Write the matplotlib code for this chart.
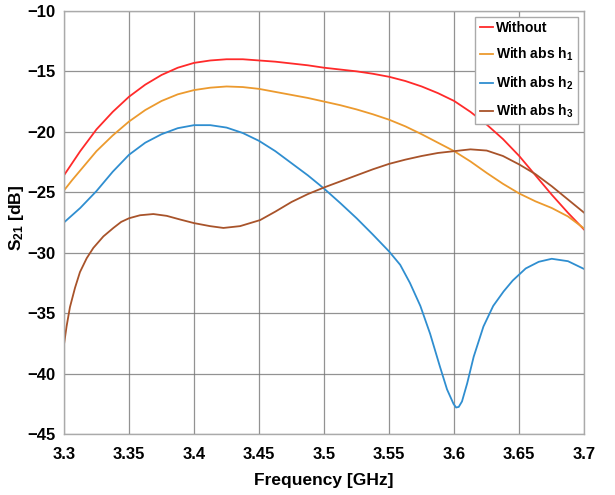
import numpy as np
import matplotlib
matplotlib.use('Agg')
import matplotlib.pyplot as plt
from matplotlib import rcParams

rcParams['font.family'] = ['Liberation Sans', 'DejaVu Sans']
rcParams['font.weight'] = 'bold'
rcParams['mathtext.fontset'] = 'custom'
rcParams['mathtext.rm'] = 'Liberation Sans:bold'
rcParams['mathtext.it'] = 'Liberation Sans:bold'
rcParams['mathtext.default'] = 'rm'

# values
freq = [3.3, 3.30625, 3.3125, 3.31875, 3.325, 3.3375, 3.35, 3.3625, 3.375, 3.3875,
        3.4, 3.4125, 3.425, 3.4375, 3.45, 3.4625, 3.475, 3.4875, 3.5, 3.5125,
        3.525, 3.5375, 3.55, 3.5625, 3.575, 3.5875, 3.6, 3.6125, 3.625, 3.6375,
        3.65, 3.6625, 3.675, 3.6875, 3.7]
s21_without = [-23.6, -22.6, -21.6, -20.7, -19.8, -18.35, -17.1, -16.1, -15.3, -14.7,
               -14.3, -14.1, -14.0, -14.0, -14.1, -14.2, -14.35, -14.5, -14.7, -14.85,
               -15.0, -15.2, -15.45, -15.8, -16.25, -16.8, -17.45, -18.35, -19.4, -20.6,
               -22.0, -23.6, -25.2, -26.7, -28.1]
s21_h1 = [-24.85, -24.0, -23.2, -22.4, -21.6, -20.3, -19.15, -18.2, -17.45, -16.9,
          -16.55, -16.35, -16.25, -16.3, -16.45, -16.7, -16.95, -17.2, -17.5, -17.8,
          -18.15, -18.55, -19.0, -19.55, -20.2, -20.9, -21.6, -22.45, -23.4, -24.3,
          -25.1, -25.75, -26.3, -27.0, -28.0]

freq_h2 = [3.3, 3.3125, 3.325, 3.3375, 3.35, 3.3625, 3.375, 3.3875, 3.4, 3.4125,
           3.425, 3.4375, 3.45, 3.4625, 3.475, 3.4875, 3.5, 3.5125, 3.525, 3.5375,
           3.55, 3.5585, 3.566, 3.574, 3.5815, 3.589, 3.5945, 3.5995, 3.6015, 3.6035,
           3.606, 3.61, 3.615, 3.6225, 3.63, 3.638, 3.645, 3.655, 3.665, 3.675,
           3.6875, 3.7]
s21_h2 = [-27.5, -26.3, -24.9, -23.3, -21.9, -20.9, -20.2, -19.7, -19.45, -19.45,
          -19.65, -20.1, -20.75, -21.6, -22.6, -23.6, -24.7, -25.9, -27.15, -28.5,
          -29.9, -31.0, -32.5, -34.4, -36.7, -39.4, -41.3, -42.5, -42.8, -42.75,
          -42.3, -40.8, -38.6, -36.1, -34.4, -33.2, -32.3, -31.3, -30.75, -30.5,
          -30.7, -31.35]

freq_h3 = [3.3, 3.302, 3.3046, 3.3085, 3.3123, 3.3175, 3.3226, 3.3303, 3.338, 3.344,
           3.35, 3.3585, 3.3687, 3.379, 3.3892, 3.4, 3.4123, 3.4226, 3.4354, 3.4508,
           3.4625, 3.475, 3.4875, 3.5, 3.5125, 3.525, 3.5375, 3.55, 3.5625, 3.575,
           3.5875, 3.6, 3.6125, 3.625, 3.6375, 3.65, 3.6625, 3.675, 3.6875, 3.7]
s21_h3 = [-37.6, -36.1, -34.5, -32.9, -31.6, -30.45, -29.6, -28.65, -27.95, -27.45,
          -27.15, -26.9, -26.8, -26.95, -27.25, -27.55, -27.8, -27.95, -27.8, -27.3,
          -26.6, -25.8, -25.15, -24.6, -24.1, -23.6, -23.1, -22.65, -22.3, -22.0,
          -21.75, -21.6, -21.45, -21.55, -22.0, -22.7, -23.5, -24.5, -25.6, -26.7]

labels = ['Without', r'With abs h$_1$', r'With abs h$_2$', r'With abs h$_3$']
colors = ['#FF2A2A', '#EC9A2E', '#2F8ED0', '#A8532A']
xticks = [3.3, 3.35, 3.4, 3.45, 3.5, 3.55, 3.6, 3.65, 3.7]
yticks = [-45, -40, -35, -30, -25, -20, -15, -10]

fig = plt.figure(figsize=(6.15, 4.95), dpi=100)
ax = fig.add_axes([0.104, 0.123, 0.846, 0.855])

series = [(freq, s21_without), (freq, s21_h1), (freq_h2, s21_h2), (freq_h3, s21_h3)]
for (x, y), lab, c in zip(series, labels, colors):
    ax.plot(x, y, color=c, linewidth=1.3, label=lab)

ax.set_xlim(3.3, 3.7)
ax.set_ylim(-45, -10)
ax.set_xticks(xticks)
ax.set_xticklabels([('%g' % t) for t in xticks])
ax.set_yticks(yticks)
ax.grid(True, color='#777777', linewidth=0.9, alpha=0.8)
ax.set_axisbelow(True)
for sp in ax.spines.values():
    sp.set_color('#AAAAAA')
    sp.set_linewidth(1.0)
ax.tick_params(length=0, labelsize=12)
ax.tick_params(axis='x', pad=9.5)
ax.tick_params(axis='y', pad=6)
for t in ax.get_xticklabels() + ax.get_yticklabels():
    t.set_fontweight('bold')

ax.set_xlabel('Frequency [GHz]', fontsize=12.5, fontweight='bold', labelpad=7.5)
ax.set_ylabel(r'S$_{21}$ [dB]', fontsize=12.5, fontweight='bold')
ax.yaxis.set_label_coords(-0.072, 0.51)

leg = ax.legend(loc='upper right', bbox_to_anchor=(0.993, 0.993), fontsize=10,
                handlelength=1.0, handletextpad=0.2, labelspacing=0.8,
                borderpad=0.3, borderaxespad=0.2, fancybox=False, framealpha=1)
leg.get_frame().set_edgecolor('#AAAAAA')
leg.get_frame().set_linewidth(1.0)
for t in leg.get_texts():
    t.set_fontweight('bold')

fig.savefig('out.png', dpi=100)
